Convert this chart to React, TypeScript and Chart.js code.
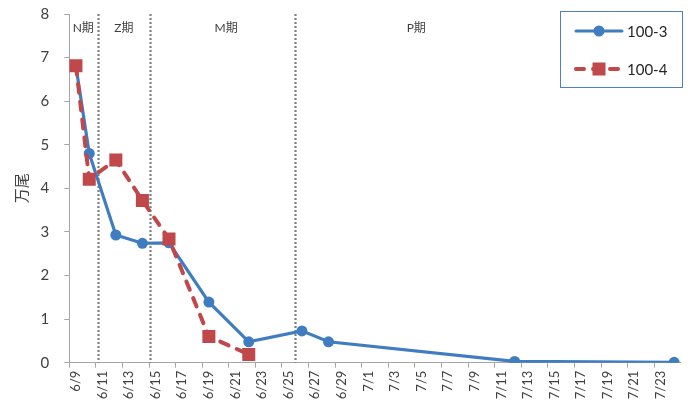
import React, { useEffect, useRef } from "react";
import { Chart, registerables } from "chart.js";

Chart.register(...registerables);

const categories = [
  "6/9", "6/10", "6/11", "6/12", "6/13", "6/14", "6/15", "6/16", "6/17", "6/18",
  "6/19", "6/20", "6/21", "6/22", "6/23", "6/24", "6/25", "6/26", "6/27", "6/28",
  "6/29", "6/30", "7/1", "7/2", "7/3", "7/4", "7/5", "7/6", "7/7", "7/8",
  "7/9", "7/10", "7/11", "7/12", "7/13", "7/14", "7/15", "7/16", "7/17", "7/18",
  "7/19", "7/20", "7/21", "7/22", "7/23", "7/24",
];

const series1Name = "100-3";
const series1Dates = ["6/9", "6/10", "6/12", "6/14", "6/16", "6/19", "6/22", "6/26", "6/28", "7/12", "7/24"];
const series1Values = [6.8, 4.8, 2.93, 2.74, 2.75, 1.39, 0.48, 0.73, 0.48, 0.03, 0.01];

const series2Name = "100-4";
const series2Dates = ["6/9", "6/10", "6/12", "6/14", "6/16", "6/19", "6/22"];
const series2Values = [6.81, 4.21, 4.65, 3.72, 2.84, 0.6, 0.19];

// phase boundaries expressed as (fractional) category positions
const phaseBoundaries = [1.67, 5.55, 16.48];
const phaseLabels = ["N期", "Z期", "M期", "P期"];
const phaseLabelPositions = [0.55, 3.6, 11.3, 25.6];

const yMin = 0;
const yMax = 8;
const yStep = 1;
const yTitle = "万尾";

const BLUE = "#3F7DC0";
const RED = "#C0474A";
const FONT = "Lato, 'Noto Sans CJK SC', sans-serif";

const phasePlugin = {
  id: "phases",
  beforeDatasetsDraw(chart: any) {
    const { ctx, chartArea, scales } = chart;
    const x = scales.x;
    ctx.save();
    ctx.strokeStyle = "#7F7F7F";
    ctx.lineWidth = 2.2;
    ctx.setLineDash([2, 2]);
    phaseBoundaries.forEach((b) => {
      const px = Math.round(x.getPixelForValue(b)) + 0.5;
      ctx.beginPath();
      ctx.moveTo(px, chartArea.top);
      ctx.lineTo(px, chartArea.bottom);
      ctx.stroke();
    });
    ctx.setLineDash([]);
    ctx.fillStyle = "#404040";
    ctx.font = `12px ${FONT}`;
    ctx.textAlign = "center";
    ctx.textBaseline = "middle";
    phaseLabels.forEach((t, i) => {
      ctx.fillText(t, x.getPixelForValue(phaseLabelPositions[i]), chartArea.top + 14);
    });
    ctx.restore();
  },
};

const legendPlugin = {
  id: "customLegend",
  afterDraw(chart: any) {
    const { ctx } = chart;
    ctx.save();
    const bx = 560.5, by = 11.5, bw = 122, bh = 76;
    ctx.strokeStyle = "#4F81BD";
    ctx.lineWidth = 1;
    ctx.strokeRect(bx, by, bw, bh);
    const items = [
      { name: series1Name, color: BLUE, y: 31, dash: [] as number[], width: 3, point: "circle" },
      { name: series2Name, color: RED, y: 69, dash: [8, 9], width: 4, point: "rect" },
    ];
    items.forEach((it) => {
      ctx.strokeStyle = it.color;
      ctx.fillStyle = it.color;
      ctx.lineWidth = it.width;
      ctx.lineCap = "round";
      ctx.setLineDash(it.dash);
      ctx.beginPath();
      ctx.moveTo(576, it.y);
      ctx.lineTo(622, it.y);
      ctx.stroke();
      ctx.setLineDash([]);
      if (it.point === "circle") {
        ctx.beginPath();
        ctx.arc(599, it.y, 5.5, 0, Math.PI * 2);
        ctx.fill();
      } else {
        ctx.fillRect(592.5, it.y - 6.5, 13, 13);
      }
      ctx.fillStyle = "#262626";
      ctx.font = `15px ${FONT}`;
      ctx.textAlign = "left";
      ctx.textBaseline = "middle";
      ctx.fillText(it.name, 627, it.y + 1);
    });
    ctx.restore();
  },
};

export default function App() {
  const ref = useRef<HTMLCanvasElement | null>(null);

  useEffect(() => {
    document.body.style.margin = "0";
    const canvas = ref.current;
    if (!canvas) return;
    const chart = new Chart(canvas, {
      type: "line",
      data: {
        labels: categories,
        datasets: [
          {
            label: series1Name,
            data: series1Dates.map((d, i) => ({ x: d, y: series1Values[i] })) as any,
            borderColor: BLUE,
            backgroundColor: BLUE,
            borderWidth: 3.2,
            pointRadius: 5.5,
            pointStyle: "circle",
            pointBorderWidth: 0,
            tension: 0,
            order: 2,
          },
          {
            label: series2Name,
            data: series2Dates.map((d, i) => ({ x: d, y: series2Values[i] })) as any,
            borderColor: RED,
            backgroundColor: RED,
            borderWidth: 4,
            borderDash: [9, 9],
            borderCapStyle: "round",
            pointRadius: 9.2,
            pointStyle: "rect",
            pointBorderWidth: 0,
            tension: 0,
            order: 1,
          },
        ],
      },
      options: {
        responsive: false,
        animation: false,
        layout: { padding: { top: 14, right: 7, left: 0, bottom: 0 } },
        plugins: {
          legend: { display: false },
          tooltip: { enabled: false },
        },
        scales: {
          x: {
            type: "category",
            offset: true,
            grid: {
              offset: true,
              drawOnChartArea: false,
              drawTicks: true,
              tickLength: 5,
              color: (c: any) => (c.index % 2 === 0 ? "#A6A6A6" : "rgba(0,0,0,0)"),
              lineWidth: 1,
            },
            border: { color: "#A6A6A6", width: 1 },
            ticks: {
              autoSkip: false,
              maxRotation: 90,
              minRotation: 90,
              padding: 3,
              color: "#404040",
              font: { family: FONT, size: 13 },
              callback: (_v: any, i: number) => (i % 2 === 0 ? categories[i] : ""),
            },
            afterFit: (s: any) => {
              s.height = 42.3;
              s.paddingLeft = 0;
              s.paddingRight = 0;
            },
          },
          y: {
            min: yMin,
            max: yMax,
            ticks: {
              stepSize: yStep,
              padding: 15,
              color: "#404040",
              font: { family: FONT, size: 15 },
            },
            grid: {
              drawOnChartArea: false,
              drawTicks: true,
              tickLength: 5,
              color: "#A6A6A6",
            },
            border: { color: "#A6A6A6", width: 1 },
            title: {
              display: true,
              text: yTitle,
              color: "#404040",
              font: { family: FONT, size: 15 },
              padding: { top: 13, bottom: 0 },
            },
            afterFit: (s: any) => {
              s.width = 69.3;
              s.paddingTop = 0;
              s.paddingBottom = 0;
            },
          },
        },
      },
      plugins: [phasePlugin, legendPlugin],
    });
    return () => chart.destroy();
  }, []);

  return (
    <div style={{ width: 690, height: 405 }}>
      <canvas ref={ref} width={690} height={405} style={{ display: "block" }} />
    </div>
  );
}
